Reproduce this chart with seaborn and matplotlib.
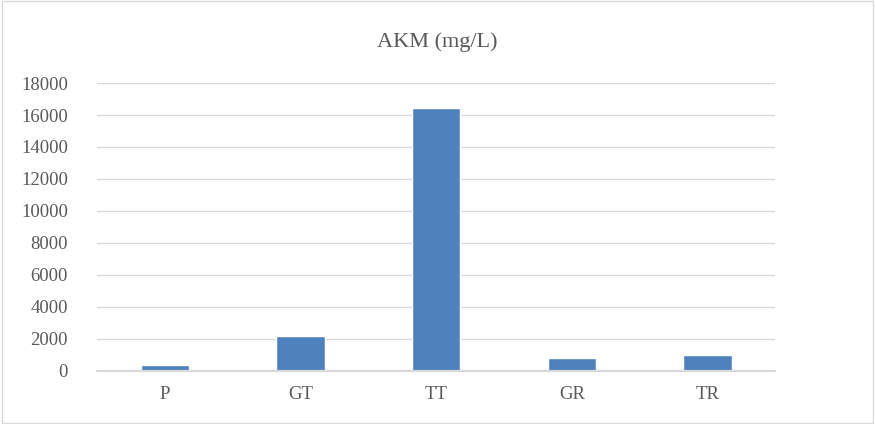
import matplotlib
matplotlib.use("Agg")
import matplotlib.pyplot as plt
import seaborn as sns
import pandas as pd

# Chart data
categories = ["P", "GT", "TT", "GR", "TR"]
akm_values = [360, 2170, 16420, 800, 950]
y_ticks = list(range(0, 18001, 2000))

df = pd.DataFrame({"sample": categories, "akm": akm_values})

sns.set_theme(style="white")
plt.rcParams["font.family"] = ["Liberation Serif", "DejaVu Serif"]

text_color = "#595959"
grid_color = "#d9d9d9"

fig = plt.figure(figsize=(8.75, 4.24), dpi=100)
ax = fig.add_axes([0.111, 0.126, 0.775, 0.678])

sns.barplot(data=df, x="sample", y="akm", color="#4f81bd", saturation=1,
            width=0.355, ax=ax, zorder=3)

ax.set_ylim(0, 18000)
ax.set_yticks(y_ticks)
ax.set_yticklabels([str(v) for v in y_ticks])
ax.set_xlim(-0.5, len(categories) - 0.5)
ax.yaxis.grid(True, color=grid_color, linewidth=1.0, zorder=0)
ax.axhline(0, color=grid_color, linewidth=1.6, zorder=4, clip_on=False)
ax.set_axisbelow(True)
for side in ["top", "right", "left", "bottom"]:
    ax.spines[side].set_visible(False)
ax.set_xlabel("")
ax.set_ylabel("")
ax.tick_params(axis="both", length=0, labelsize=13.5, colors=text_color)
ax.tick_params(axis="y", pad=21)
ax.tick_params(axis="x", pad=11)

fig.text(0.5, 0.90, "AKM (mg/L)", ha="center", va="center",
         fontsize=16, color=text_color)

# chart area border
border = plt.Rectangle((0.002, 0.003), 0.996, 0.994, transform=fig.transFigure,
                       fill=False, edgecolor=grid_color, linewidth=1.0)
fig.add_artist(border)

fig.savefig("out.png", dpi=100)
